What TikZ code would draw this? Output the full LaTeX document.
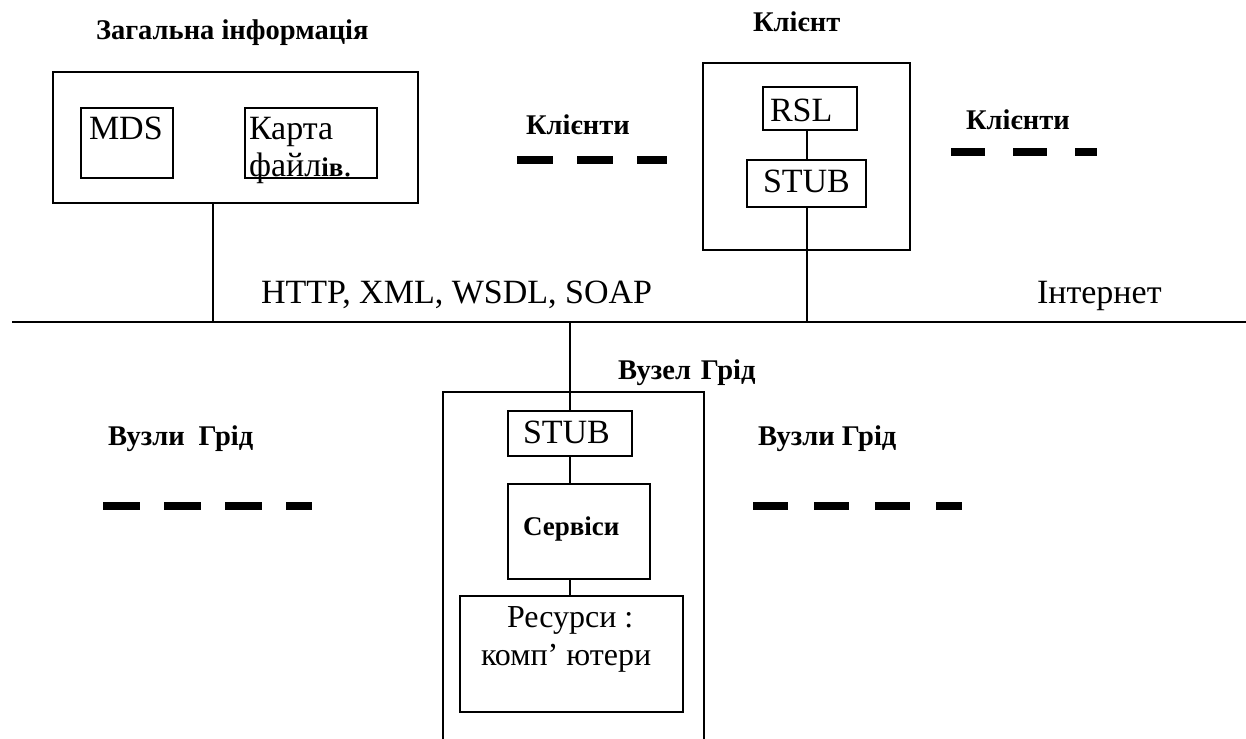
\documentclass[tikz,border=0pt]{standalone}
\usepackage{fontspec}
\setmainfont{Liberation Serif}
\usetikzlibrary{calc}

\begin{document}
\begin{tikzpicture}[x=1pt, y=-1pt, line width=2pt,
        box/.style={draw, line width=2pt, inner sep=0pt},
        lbl/.style={inner sep=0pt, anchor=base west, font=\fontsize{34}{36}\selectfont},
        hd/.style={inner sep=0pt, anchor=base west, font=\fontsize{28.5}{31}\selectfont\bfseries},
        blanks/.style={line width=8pt}]
        \useasboundingbox (0,0) rectangle (1246,738);

        % general information
        \node[hd] (infoT) at (95,40) {Загальна інформація};
        \node[box, minimum width=365, minimum height=131] (info) at (235.5,137.5) {};
        \node[box, minimum width=92, minimum height=70] (mds) at (127,143) {};
        \node[box, minimum width=132, minimum height=70] (map) at (311,143) {};
        \node[lbl] (mdsT) at (88,140) {MDS};
        \node[lbl] (mapT) at (248,140) {Карта};
        \node[lbl] (mapT2) at (248,176) {файл{\bfseries\fontsize{27}{29}\selectfont ів}.};

        % client
        \node[hd] (clientT) at (752,32) {Клієнт};
        \node[box, minimum width=207, minimum height=187] (client) at (806.5,156.5) {};
        \node[box, minimum width=94, minimum height=43] (crsl) at (810,108.5) {};
        \node[box, minimum width=119, minimum height=47] (cstub) at (806.5,183.5) {};
        \node[lbl] (crslT) at (769,122) {RSL};
        \node[lbl] (cstubT) at (762,193) {STUB};

        \node[hd] (clL) at (525,135) {Клієнти};
        \node[hd] (clR) at (965,130) {Клієнти};
        \coordinate (clLa) at (517,160);
        \coordinate (clLb) at (667,160);
        \coordinate (clRa) at (951,152);
        \coordinate (clRb) at (1097,152);
        \draw[blanks, dash pattern=on 36pt off 24pt] (clLa) -- (clLb);
        \draw[blanks, dash pattern=on 34pt off 28pt] (clRa) -- (clRb);

        % internet
        \coordinate (netL) at (12,322);
        \coordinate (netR) at (1246,322);
        \draw (netL) -- (netR);
        \node[lbl] (proto) at (260,303) {HTTP, XML, WSDL, SOAP};
        \node[lbl] (inet) at (1036,303) {Інтернет};

        % grid node
        \node[hd] (gnodeT) at (617,379) {Вузел\hspace{10pt}Грід};
        \node[box, minimum width=261, minimum height=378] (gnode) at (573.5,581) {};
        \node[box, minimum width=124, minimum height=45] (gstub) at (570,433.5) {};
        \node[box, minimum width=142, minimum height=95] (serv) at (579,531.5) {};
        \node[box, minimum width=223, minimum height=116] (res) at (571.5,654) {};
        \node[lbl] (gstubT) at (522,443) {STUB};
        \node[hd, font=\fontsize{27}{30}\selectfont\bfseries] (servT) at (522,535) {Сервіси};
        \node[lbl, font=\fontsize{32}{34}\selectfont] (resT) at (506,627) {Ресурси :};
        \node[lbl, font=\fontsize{32}{34}\selectfont] (resT2) at (480,665) {комп' ютери};

        \node[hd] (gridL) at (107,445) {Вузли\hspace{14pt}Грід};
        \node[hd] (gridR) at (757,445) {Вузли Грід};
        \coordinate (gridLa) at (103,506);
        \coordinate (gridLb) at (312,506);
        \coordinate (gridRa) at (753,506);
        \coordinate (gridRb) at (962,506);
        \draw[blanks, dash pattern=on 37pt off 24pt] (gridLa) -- (gridLb);
        \draw[blanks, dash pattern=on 35pt off 26pt] (gridRa) -- (gridRb);

        % links
        \coordinate (infoX) at (213,0);
        \draw (infoX |- info.south) -- (infoX |- netL);
        \draw (crsl.south -| cstub) -- (cstub.north);
        \draw (cstub.south) -- (cstub.south |- netL);
        \draw (gstub.north) -- (gstub.north |- netL);
        \draw (gstub.south) -- (gstub.south |- serv.north);
        \draw (serv.south -| gstub) -- (res.north -| gstub);
    \end{tikzpicture}
\end{document}
